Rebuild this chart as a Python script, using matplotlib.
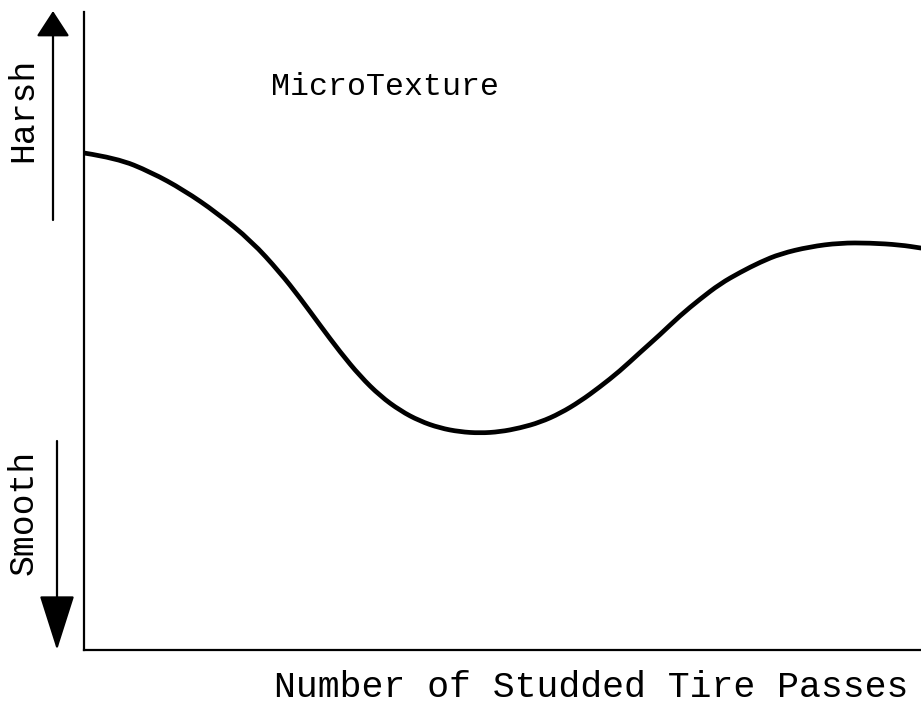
import matplotlib
matplotlib.use("Agg")
import matplotlib.pyplot as plt
from matplotlib.patches import FancyArrowPatch, PathPatch
from matplotlib.path import Path

# curve (arbitrary units, 0-100)
passes = [0.0, 3.9, 8.0, 11.9, 15.9, 20.0, 23.4, 25.8, 28.2, 30.6, 33.0, 35.4,
          37.8, 40.1, 42.5, 44.9, 47.3, 49.7, 52.1, 54.5, 56.9, 59.3, 61.6,
          64.0, 66.4, 68.8, 71.2, 73.6, 76.0, 78.4, 80.8, 83.2, 86.7, 90.3,
          93.9, 97.5, 100.0]
texture = [77.9, 77.1, 74.9, 72.1, 68.5, 64.1, 59.2, 55.2, 50.9, 46.7, 42.9, 39.8,
           37.5, 35.9, 34.8, 34.2, 34.0, 34.2, 34.8, 35.7, 37.1, 39.0, 41.2,
           43.7, 46.6, 49.4, 52.4, 55.0, 57.4, 59.2, 60.8, 62.1, 63.2, 63.8,
           63.8, 63.5, 63.0]

title = "MicroTexture"
xlabel = "Number of Studded Tire Passes"
up_label = "Harsh"
down_label = "Smooth"

W, H = 921, 706
font = "Liberation Mono"

fig = plt.figure(figsize=(W / 100, H / 100), dpi=100)
ax = fig.add_axes([84 / W, 56 / H, 837 / W, 638 / H])

# hand-drawn look: pass the read points to a quadratic bezier path
pts = list(zip(passes, texture))
verts = [pts[0]]
codes = [Path.MOVETO]
for i in range(1, len(pts) - 1):
    mid = ((pts[i][0] + pts[i + 1][0]) / 2, (pts[i][1] + pts[i + 1][1]) / 2)
    verts += [pts[i], mid]
    codes += [Path.CURVE3, Path.CURVE3]
verts.append(pts[-1])
codes.append(Path.LINETO)
ax.add_patch(PathPatch(Path(verts, codes), fill=False, edgecolor="black",
                       lw=3.4, capstyle="round", joinstyle="round"))

ax.set_xlim(0, 100)
ax.set_ylim(0, 100)
ax.set_xticks([])
ax.set_yticks([])
for s in ["top", "right"]:
    ax.spines[s].set_visible(False)
for s in ["left", "bottom"]:
    ax.spines[s].set_linewidth(1.6)

def px(x, y):
    return (x / W, 1 - y / H)

fig.text(*px(385, 95), title, family=font, fontsize=22.8, ha="center", va="baseline")
fig.text(*px(591, 697), xlabel, family=font, fontsize=26.3, ha="center", va="baseline")
fig.text(*px(23, 110), up_label, family=font, fontsize=25, rotation=90,
         ha="center", va="center")
fig.text(*px(23, 512), down_label, family=font, fontsize=25, rotation=90,
         ha="center", va="center")

# Harsh / Smooth arrows
fig.add_artist(FancyArrowPatch(px(53, 220), px(53, 11), transform=fig.transFigure,
               arrowstyle="-|>,head_length=1.0,head_width=0.65", mutation_scale=16,
               color="black", lw=1.6, shrinkA=0, shrinkB=0))
fig.add_artist(FancyArrowPatch(px(57, 441), px(57, 650), transform=fig.transFigure,
               arrowstyle="-|>,head_length=2.2,head_width=0.7", mutation_scale=16,
               color="black", lw=1.6, shrinkA=0, shrinkB=0))

fig.savefig("out.png", dpi=100)
